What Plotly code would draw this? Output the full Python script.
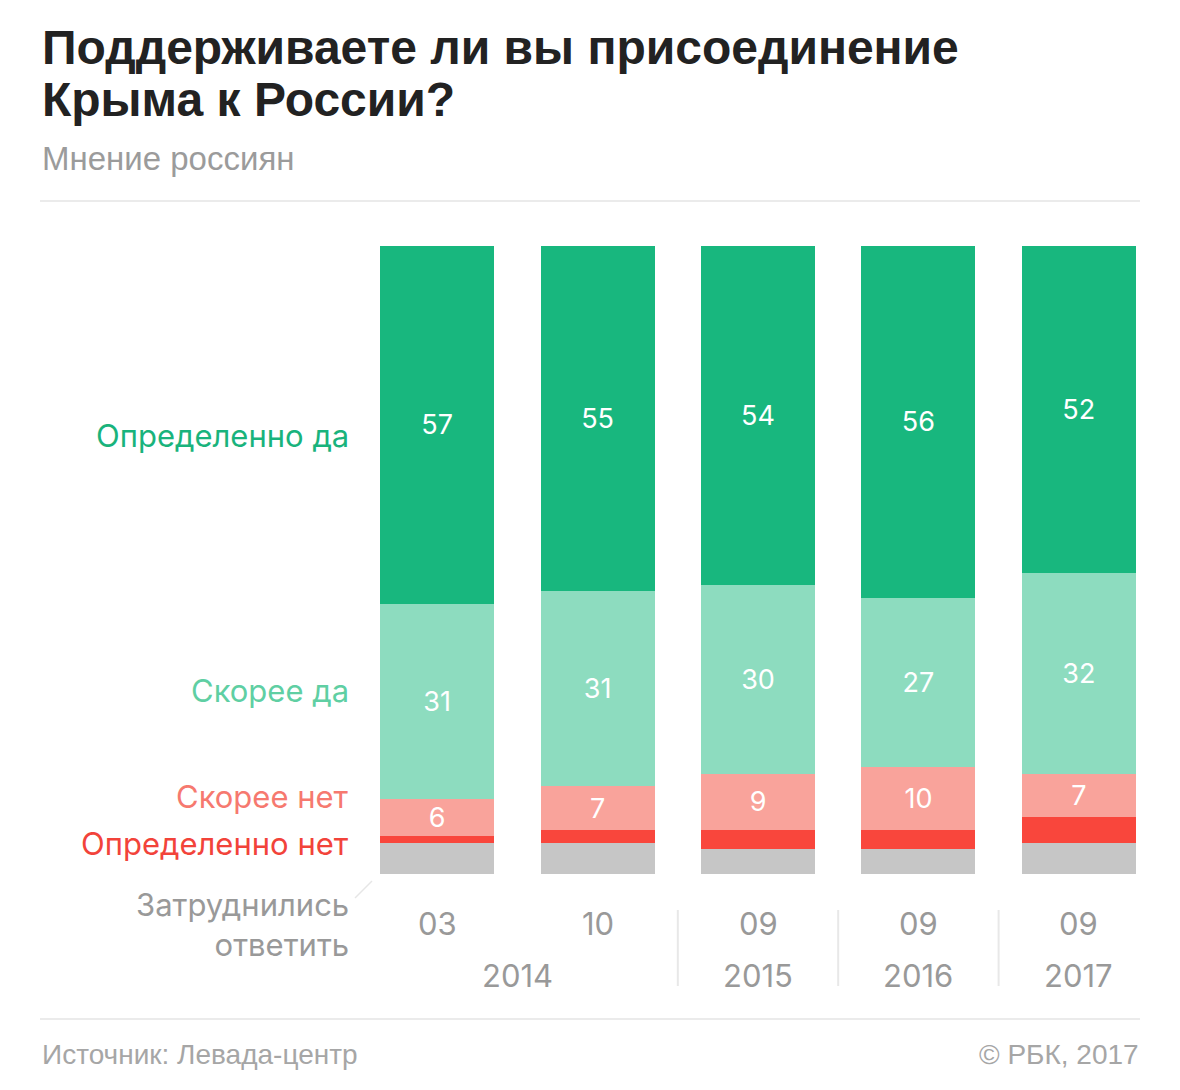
import plotly.graph_objects as go

categories = ["03.2014", "10.2014", "09.2015", "09.2016", "09.2017"]
month_labels = ["03", "10", "09", "09", "09"]
year_labels = ["2014", "2015", "2016", "2017"]
year_positions = [0.5, 2, 3, 4]
separators = [1.5, 2.5, 3.5]

definitely_yes = [57, 55, 54, 56, 52]
rather_yes = [31, 31, 30, 27, 32]
rather_no = [6, 7, 9, 10, 7]
definitely_no = [1, 2, 3, 3, 4]
hard_to_say = [5, 5, 4, 4, 5]

series = [
    ("Затруднились ответить", hard_to_say, "#c6c6c6", False),
    ("Определенно нет", definitely_no, "#f9463c", False),
    ("Скорее нет", rather_no, "#f9a39b", True),
    ("Скорее да", rather_yes, "#8ddcbf", True),
    ("Определенно да", definitely_yes, "#18b77e", True),
]

W, H = 1180, 1090
L, R, T, B = 357, 21, 246, 216
PW, PH = W - L - R, H - T - B


def px(x):
    return (x - L) / PW


def py(y):
    return (H - B - y) / PH


xidx = list(range(len(categories)))

fig = go.Figure()
for name, vals, color, show in series:
    fig.add_trace(go.Bar(
        x=xidx, y=vals, name=name, marker=dict(color=color, line=dict(width=0)),
        text=[str(v) for v in vals] if show else None,
        textposition="inside" if show else "none",
        insidetextanchor="middle",
        textangle=0,
        textfont=dict(color="white", size=27, family="Inter"),
        hoverinfo="skip",
    ))

ann = []
# title & subtitle
title_lines = ["Поддерживаете ли вы присоединение", "Крыма к России?"]
for line, yy in zip(title_lines, [48, 100]):
    ann.append(dict(text="<b>" + line + "</b>", x=px(40), y=py(yy),
                    xanchor="left", yanchor="middle", align="left",
                    font=dict(size=48, color="#222222", family="Liberation Sans")))
ann.append(dict(text="Мнение россиян", x=px(40), y=py(158), xanchor="left", yanchor="middle",
                font=dict(size=33, color="#9b9b9b", family="Liberation Sans")))
# left labels
left_labels = [
    ("Определенно да", 435, "#19b37c"),
    ("Скорее да", 690, "#5fcfa3"),
    ("Скорее нет", 796, "#f6796f"),
    ("Определенно нет", 843, "#f2433a"),
    ("Затруднились<br>ответить", 924, "#999999"),
]
for txt, yy, col in left_labels:
    ann.append(dict(text=txt, x=px(351), y=py(yy), xanchor="right", yanchor="middle", align="right",
                    font=dict(size=31, color=col, family="Inter")))
# x labels
for i, m in enumerate(month_labels):
    ann.append(dict(text=m, x=xidx[i], xref="x", y=py(923), xanchor="center", yanchor="middle",
                    font=dict(size=31, color="#999999", family="Inter")))
for pos, yl in zip(year_positions, year_labels):
    ann.append(dict(text=yl, x=pos, xref="x", y=py(975), xanchor="center", yanchor="middle",
                    font=dict(size=31, color="#999999", family="Inter")))
# footer
ann.append(dict(text="Источник: Левада-центр", x=px(40), y=py(1054), xanchor="left", yanchor="middle",
                font=dict(size=28, color="#a6a6a6", family="Liberation Sans")))
ann.append(dict(text="© РБК, 2017", x=px(1141), y=py(1054), xanchor="right", yanchor="middle",
                font=dict(size=28, color="#a6a6a6", family="Liberation Sans")))

for a in ann:
    a.setdefault("xref", "paper")
    a["yref"] = "paper"
    a["showarrow"] = False

shapes = [
    dict(type="line", xref="paper", yref="paper", x0=px(40), x1=px(1140), y0=py(201), y1=py(201),
         line=dict(color="#ebebeb", width=2)),
    dict(type="line", xref="paper", yref="paper", x0=px(40), x1=px(1140), y0=py(1019), y1=py(1019),
         line=dict(color="#ebebeb", width=2)),
    dict(type="line", xref="paper", yref="paper", x0=px(355), x1=px(372), y0=py(898), y1=py(881),
         line=dict(color="#e6e6e6", width=1.5)),
]
for s in separators:
    shapes.append(dict(type="line", xref="x", yref="paper", x0=s, x1=s, y0=py(910), y1=py(986),
                       line=dict(color="#e8e8e8", width=2)))

fig.update_layout(
    width=W, height=H, barmode="stack", bargap=0.29,
    margin=dict(l=L, r=R, t=T, b=B, autoexpand=False),
    paper_bgcolor="white", plot_bgcolor="white",
    showlegend=False,
    xaxis=dict(visible=False, range=[-0.5, 4.5]),
    yaxis=dict(visible=False, range=[0, 100]),
    annotations=ann, shapes=shapes,
    uniformtext=dict(minsize=27, mode="show"),
)

fig.write_html("out.html", config={"displayModeBar": False})
